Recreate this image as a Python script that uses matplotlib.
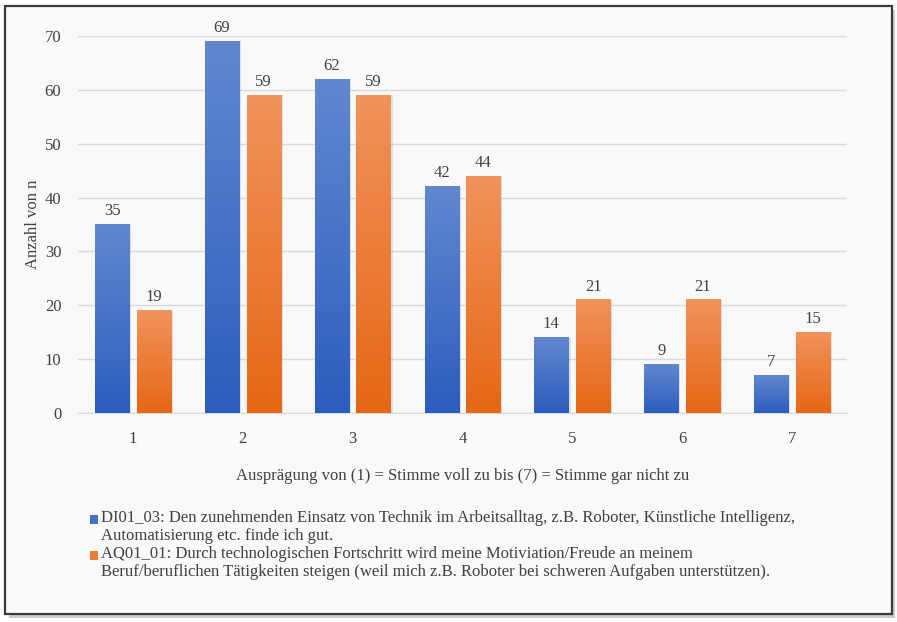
import matplotlib
matplotlib.use("Agg")
import matplotlib.pyplot as plt
import numpy as np
from matplotlib.colors import LinearSegmentedColormap
from matplotlib.patches import Rectangle

# Data
categories = ["1", "2", "3", "4", "5", "6", "7"]
di01_03 = [35, 69, 62, 42, 14, 9, 7]
aq01_01 = [19, 59, 59, 44, 21, 21, 15]
series_labels = [
    "DI01_03: Den zunehmenden Einsatz von Technik im Arbeitsalltag, z.B. Roboter, Künstliche Intelligenz,\n"
    "Automatisierung etc. finde ich gut.",
    "AQ01_01: Durch technologischen Fortschritt wird meine Motiviation/Freude an meinem\n"
    "Beruf/beruflichen Tätigkeiten steigen (weil mich z.B. Roboter bei schweren Aufgaben unterstützen).",
]
y_ticks = [0, 10, 20, 30, 40, 50, 60, 70]

_INK = "#404040"
_GRID = "#d9d9d9"
_BLUE = ("#2c5dbd", "#6287cf")
_ORANGE = ("#e66715", "#f1935c")
_SOLID = ["#4472c4", "#ed7d31"]

plt.rcParams["font.family"] = ["Liberation Serif", "DejaVu Serif"]

fig = plt.figure(figsize=(8.97, 6.22), dpi=100)
fig.patch.set_facecolor("white")

# Frame with drop shadow
fig.patches.append(Rectangle((0.010, 0.006), 0.988, 0.978, transform=fig.transFigure,
                             facecolor="#9a9a9a", edgecolor="none", alpha=0.5, zorder=0))
fig.patches.append(Rectangle((0.006, 0.013), 0.988, 0.978, transform=fig.transFigure,
                             facecolor="#f9f9f9", edgecolor="#3a3a3a", lw=1.6, zorder=1))

ax = fig.add_axes([0.087, 0.336, 0.857, 0.606])
ax.set_facecolor("none")
ax.set_zorder(2)

x = np.arange(len(categories))
width = 0.31
offset = 0.19

for vals, (dark, light), sign in [(di01_03, _BLUE, -1), (aq01_01, _ORANGE, 1)]:
    cmap = LinearSegmentedColormap.from_list("g", [dark, light])
    grad = np.linspace(0, 1, 256).reshape(-1, 1)
    for xi, v in zip(x, vals):
        x0 = xi + sign * offset - width / 2
        ax.add_patch(Rectangle((x0 + 0.02, 0), width, v, facecolor="#000000",
                               alpha=0.10, edgecolor="none", zorder=2))
        ax.imshow(grad, cmap=cmap, origin="lower", aspect="auto",
                  extent=[x0, x0 + width, 0, v], zorder=3)
        ax.text(xi + sign * offset, v + 1.0, str(v), ha="center", va="bottom",
                fontsize=12, color=_INK)

ax.set_xlim(-0.5, len(categories) - 0.5)
ax.set_ylim(0, 70)
ax.set_yticks(y_ticks)
ax.set_xticks(x)
ax.set_xticklabels(categories)
ax.yaxis.grid(True, color=_GRID, lw=1.0, zorder=0)
ax.set_axisbelow(True)
for s in ["top", "right", "left"]:
    ax.spines[s].set_visible(False)
ax.spines["bottom"].set_color(_GRID)
ax.tick_params(axis="both", length=0, labelsize=12, labelcolor=_INK)
ax.tick_params(axis="x", pad=13)
ax.tick_params(axis="y", pad=12)
ax.set_ylabel("Anzahl von n", fontsize=12, color=_INK, labelpad=3)
ax.set_xlabel("Ausprägung von (1) = Stimme voll zu bis (7) = Stimme gar nicht zu",
              fontsize=12, color=_INK, labelpad=15)

# Legend drawn by hand so the marker sits on the first line of each wrapped label
leg_y = [0.163, 0.105]
for lab, col, yy in zip(series_labels, _SOLID, leg_y):
    fig.patches.append(Rectangle((0.1, yy - 0.005), 0.009, 0.0135, transform=fig.transFigure,
                                 facecolor=col, edgecolor="none", zorder=3))
    fig.text(0.1125, yy + 0.0165, lab, fontsize=12, color=_INK, ha="left", va="top",
             linespacing=1.12, zorder=3)

fig.savefig("out.png", dpi=100)
